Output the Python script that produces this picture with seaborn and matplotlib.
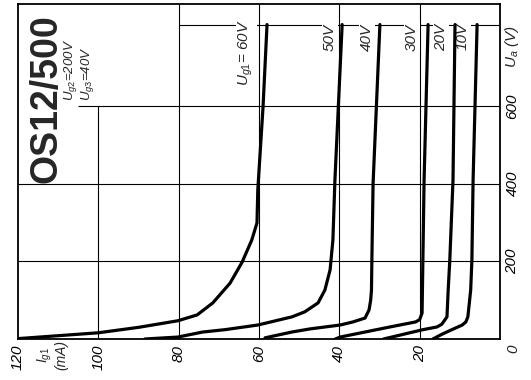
import matplotlib
matplotlib.use("Agg")
import matplotlib.pyplot as plt
import seaborn as sns
import pandas as pd

# grid current curves of the OS12/500
# anode voltage Ua (V) and g1 current Ig1 (mA), from the top of each curve down to Ua = 0
ug1_labels = ["60V", "50V", "40V", "30V", "20V", "10V"]

ua_60 = [810, 597, 384, 299, 255, 198, 144, 93, 62, 47, 30, 16, 1]
ig_60 = [58.0, 59.0, 60.3, 60.5, 61.8, 64.2, 67.2, 71.5, 75.4, 80.2, 90.0, 100.0, 120.0]

ua_50 = [810, 409, 255, 178, 126, 93, 70, 57, 36, 24, 18, 5, 0]
ig_50 = [39.3, 41.1, 41.6, 42.3, 43.6, 45.3, 48.6, 51.8, 60.3, 68.5, 74.0, 80.2, 88.4]

ua_40 = [810, 400, 203, 126, 100, 75, 54, 44, 36, 26, 18, 3]
ig_40 = [29.9, 31.6, 31.9, 32.0, 32.2, 32.6, 33.6, 36.6, 39.8, 47.3, 51.8, 58.5]

ua_30 = [810, 409, 203, 67, 50, 44, 31, 5, 0]
ig_30 = [17.9, 18.9, 19.2, 19.4, 20.0, 21.0, 27.4, 39.8, 41.0]

ua_20 = [810, 409, 203, 126, 57, 38, 31, 24, 0]
ig_20 = [11.2, 11.7, 12.5, 12.9, 13.2, 14.5, 15.7, 19.2, 29.0]

ua_10 = [810, 409, 203, 126, 57, 44, 36, 24, 12, 0]
ig_10 = [5.7, 6.7, 7.0, 7.3, 8.0, 8.5, 9.4, 12.0, 14.5, 16.7]

ig_ticks = [120, 100, 80, 60, 40, 20]
ua_ticks = [200, 400, 600]

sns.set_style("white")
plt.rcParams['font.family'] = ['Liberation Sans', 'DejaVu Sans']
plt.rcParams['mathtext.fontset'] = 'custom'
plt.rcParams['mathtext.rm'] = 'Liberation Sans'
plt.rcParams['mathtext.it'] = 'Liberation Sans:italic'

rows = []
for lab, ua, ig in zip(ug1_labels, [ua_60, ua_50, ua_40, ua_30, ua_20, ua_10],
                       [ig_60, ig_50, ig_40, ig_30, ig_20, ig_10]):
    for u, i in zip(ua, ig):
        rows.append({"Ug1": lab, "Ua": u, "Ig1": i})
df = pd.DataFrame(rows)

# the sheet is printed turned by 90 degrees: current runs right to left, voltage upwards
fig = plt.figure(figsize=(5.31, 3.8), dpi=100)
ax = fig.add_axes([18 / 531, 1 - 339 / 380, 482 / 531, 335 / 380])

# grid, with the corner kept free for the type name
gl = dict(color='black', linewidth=0.8, zorder=1)
for i in [80, 60, 40, 20]:
    ax.axvline(i, **gl)
ax.vlines(100, 0, 600, **gl)
ax.axhline(200, **gl)
ax.axhline(400, **gl)
ax.hlines(600, 105, 0, **gl)
ax.hlines(810, 80, 0, **gl)

sns.lineplot(data=df, x="Ig1", y="Ua", hue="Ug1", palette={l: 'black' for l in ug1_labels},
             sort=False, estimator=None, linewidth=2.3, legend=False, ax=ax, zorder=3)

ax.set_xlim(120, 0)
ax.set_ylim(0, 863)
ax.set_xlabel('')
ax.set_ylabel('')
ax.set_xticks(ig_ticks)
ax.set_xticklabels([str(t) for t in ig_ticks], rotation=90, fontstyle='italic', fontsize=11)
ax.yaxis.tick_right()
ax.set_yticks(ua_ticks)
ax.set_yticklabels([str(t) for t in ua_ticks], rotation=90, va='center', fontstyle='italic', fontsize=11)
ax.tick_params(length=0, pad=4, colors='black')
for s in ax.spines.values():
    s.set_visible(True)
    s.set_edgecolor('black')
    s.set_linewidth(1.3)

ax.text(-3.3, -26, "0", rotation=90, ha='center', va='center', fontstyle='italic', fontsize=11)
ax.text(111.5, -42, "$I_{g1}$\n(mA)", rotation=90, ha='center', va='center', fontsize=10,
        fontstyle='italic', linespacing=1.0)
ax.text(-3.0, 754, "$U_a$ (V)", rotation=90, ha='center', va='center', fontsize=11,
        fontstyle='italic')

ax.text(113.0, 618, "OS12/500", rotation=90, ha='center', va='center', fontsize=27,
        fontweight='bold')
ax.text(104.8, 612, "$U_{g2}$=200V\n$U_{g3}$=40V", rotation=90, ha='center', va='bottom',
        fontsize=9.5, fontstyle='italic', linespacing=0.95, multialignment='left')

box = dict(facecolor='white', edgecolor='none', pad=1.0)
label_pos = {"60V": (63.2, 739), "50V": (42.3, 778), "40V": (33.1, 778),
             "30V": (21.9, 778), "20V": (14.7, 778), "10V": (9.2, 780)}
for lab in ug1_labels:
    x, y = label_pos[lab]
    txt = "$U_{g1}$= " + lab if lab == "60V" else lab
    ax.text(x, y, txt, rotation=90, ha='center', va='center', fontsize=11,
            fontstyle='italic', bbox=box, zorder=2)

fig.savefig("out.png", dpi=100)
